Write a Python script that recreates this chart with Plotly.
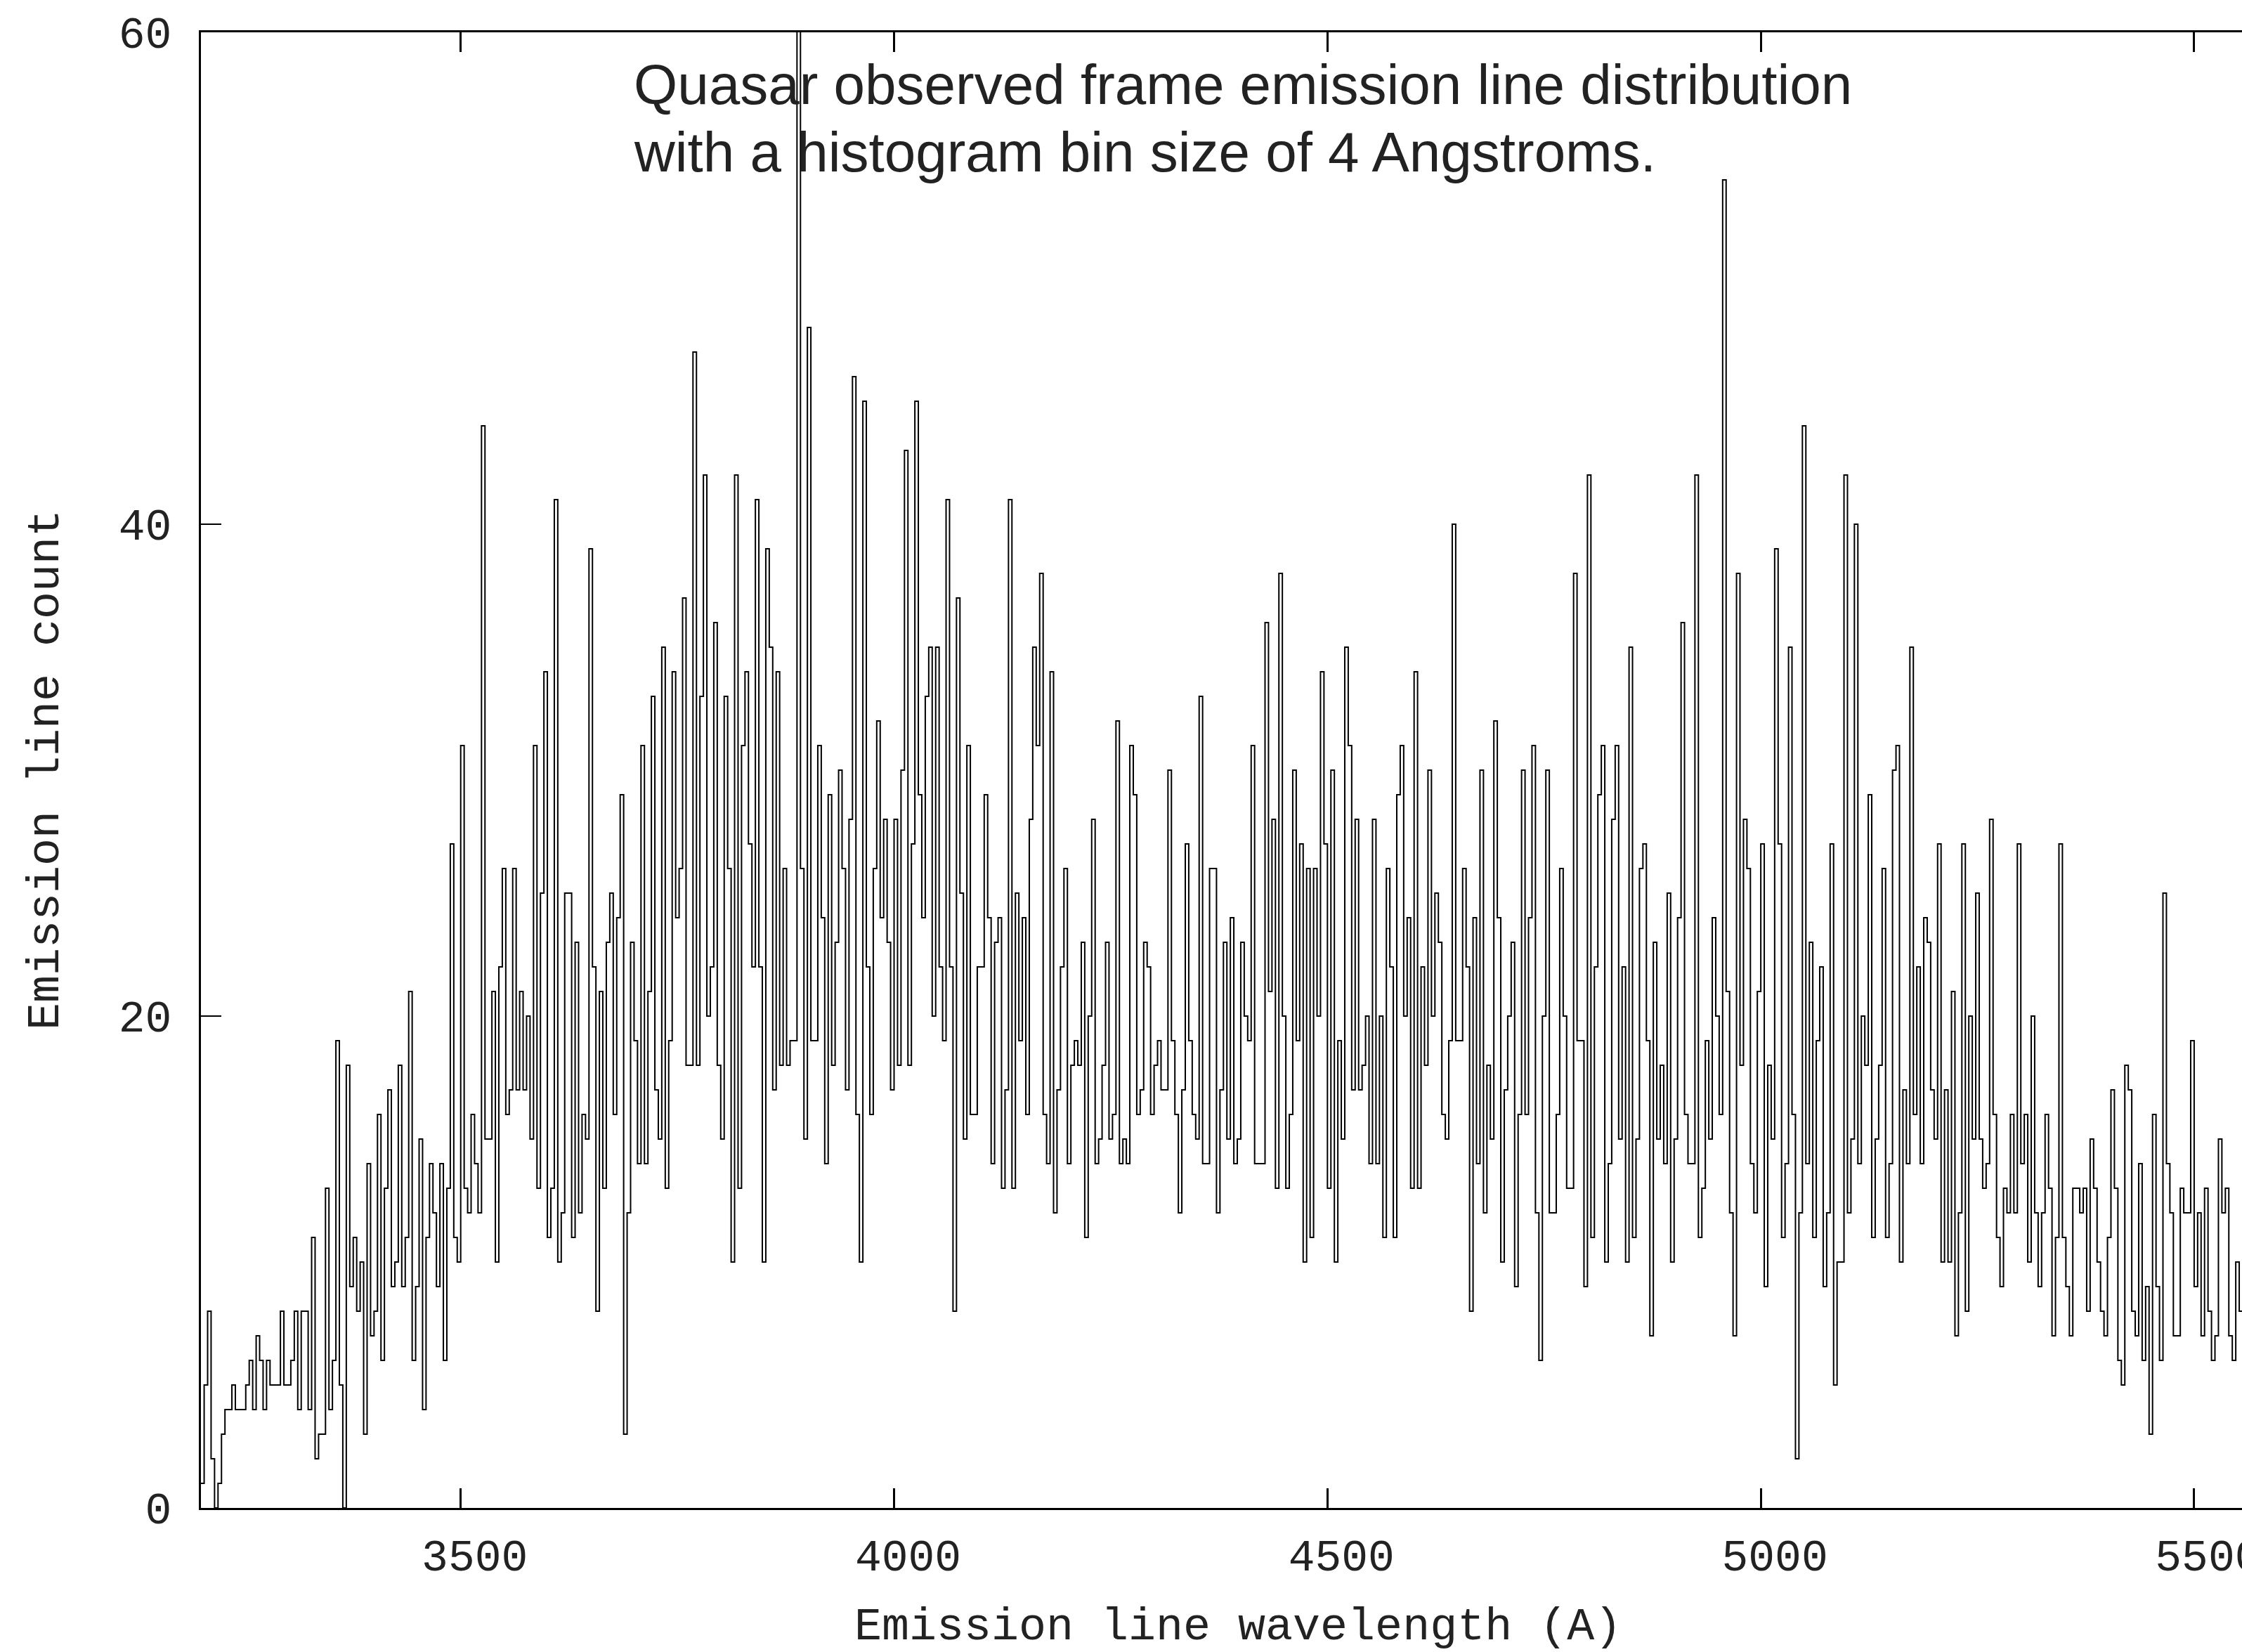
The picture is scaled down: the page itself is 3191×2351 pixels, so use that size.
import plotly.graph_objects as go

# ---------------- data ----------------
bin_start = 3200          # Angstrom, left edge of first bin
bin_width = 4             # Angstrom
counts = [
    # 3200 - 3504
    1, 5, 8, 2, 0, 1, 3, 4, 4, 5, 4, 4, 4, 5, 6, 4, 7, 6, 4, 6,
    5, 5, 5, 8, 5, 5, 6, 8, 4, 8, 8, 4, 11, 2, 3, 3, 13, 4, 6, 19,
    5, 0, 18, 9, 11, 8, 10, 3, 14, 7, 8, 16, 6, 13, 17, 9, 10, 18, 9, 11,
    21, 6, 9, 15, 4, 11, 14, 12, 9, 14, 6, 13, 27, 11, 10, 31, 13,
    # bins 78 - 156
    12, 16, 14, 12, 44, 15, 15, 21, 10, 22, 26, 16, 17, 26, 17, 21, 17, 20, 15, 31,
    13, 25, 34, 11, 13, 41, 10, 12, 25, 25, 11, 23, 12, 16, 15, 39, 22, 8, 21, 13,
    23, 25, 16, 24, 29, 3, 12, 23, 19, 14, 31, 14, 21, 33, 17, 15, 35, 13, 19, 34,
    24, 26, 37, 18, 18, 47, 18, 33, 42, 20, 22, 36, 18, 15, 33, 26, 10, 42, 13,
    # bins 157 - 235
    31, 34, 27, 22, 41, 22, 10, 39, 35, 17, 34, 18, 26, 18, 19, 19, 70, 26, 15, 48,
    19, 19, 31, 24, 14, 29, 18, 23, 30, 26, 17, 28, 46, 16, 10, 45, 22, 16, 26, 32,
    24, 28, 23, 17, 28, 18, 30, 43, 18, 27, 45, 29, 24, 33, 35, 20, 35, 22, 19, 41,
    22, 8, 37, 25, 15, 31, 16, 16, 22, 22, 29, 24, 14, 23, 24, 13, 17, 41, 13,
    # bins 236 - 314
    25, 19, 24, 16, 28, 35, 31, 38, 16, 14, 34, 12, 17, 22, 26, 14, 18, 19, 18, 23,
    11, 20, 28, 14, 15, 18, 23, 15, 16, 32, 14, 15, 14, 31, 29, 16, 17, 23, 22, 16,
    18, 19, 17, 17, 30, 19, 16, 12, 17, 27, 19, 16, 15, 33, 14, 14, 26, 26, 12, 17,
    23, 15, 24, 14, 15, 23, 20, 19, 31, 14, 14, 14, 36, 21, 28, 13, 38, 20, 13,
    # bins 315 - 393
    16, 30, 19, 27, 10, 26, 11, 26, 20, 34, 27, 13, 30, 10, 19, 15, 35, 31, 17, 28,
    17, 18, 20, 14, 28, 14, 20, 11, 26, 22, 11, 29, 31, 20, 24, 13, 34, 13, 22, 18,
    30, 20, 25, 23, 16, 15, 19, 40, 19, 19, 26, 22, 8, 24, 14, 30, 12, 18, 15, 32,
    24, 10, 17, 20, 23, 9, 16, 30, 16, 24, 31, 12, 6, 20, 30, 12, 12, 16, 26,
    # bins 394 - 471
    20, 13, 13, 38, 19, 19, 9, 42, 11, 22, 29, 31, 10, 14, 28, 31, 15, 22, 10, 35,
    11, 15, 26, 27, 19, 7, 23, 15, 18, 14, 25, 10, 15, 24, 36, 16, 14, 14, 42, 11,
    13, 19, 15, 24, 20, 16, 54, 21, 12, 7, 38, 18, 28, 26, 14, 12, 21, 27, 9, 18,
    15, 39, 27, 11, 14, 35, 16, 2, 12, 44, 14, 23, 11, 19, 22, 9, 12, 27,
    # bins 472 - 551
    5, 10, 10, 42, 12, 15, 40, 14, 20, 18, 29, 11, 15, 18, 26, 11, 14, 30, 31, 10,
    17, 14, 35, 16, 22, 14, 24, 23, 17, 15, 27, 10, 17, 10, 21, 7, 12, 27, 8, 20,
    15, 25, 15, 13, 14, 28, 16, 11, 9, 13, 12, 16, 12, 27, 14, 16, 10, 20, 12, 9,
    12, 16, 13, 7, 11, 27, 11, 9, 7, 13, 13, 12, 13, 8, 15, 13, 10, 8, 7, 11,
    # bins 552 - 589
    17, 13, 6, 5, 18, 17, 8, 7, 14, 6, 9, 3, 16, 9, 6, 25, 14, 12, 7, 7,
    13, 12, 12, 19, 9, 12, 7, 13, 8, 6, 7, 15, 12, 13, 7, 6, 10, 8,
]
x_tick_values = [3500, 4000, 4500, 5000, 5500]
y_tick_values = [0, 20, 40, 60]
x_range = [3200.3, 5555.2]
y_range = [0, 60]
title_lines = ["Quasar observed frame emission line distribution",
               "with a histogram bin size of 4 Angstroms."]
x_label = "Emission line wavelength (A)"
y_label = "Emission line count"

# ---------------- figure ----------------
edges = [bin_start + bin_width * i for i in range(len(counts) + 1)]
step_y = counts + [counts[-1]]

W, H = 3191, 2351
L, R, T, B = 286, 0, 46, 205
plot_w, plot_h = W - L - R, H - T - B

fig = go.Figure(go.Scatter(
    x=edges, y=step_y, mode="lines",
    line=dict(shape="hv", color="black", width=2),
    hoverinfo="skip", showlegend=False,
))

mono = "Liberation Mono, Courier New, monospace"
sans = "Liberation Sans, Arial, Helvetica, sans-serif"

fig.update_layout(
    width=W, height=H,
    margin=dict(l=L, r=R, t=T, b=B, pad=0, autoexpand=False),
    paper_bgcolor="white", plot_bgcolor="white",
    showlegend=False,
)
fig.update_xaxes(
    range=x_range, tickvals=x_tick_values, automargin=False,
    ticks="inside", ticklen=28, tickwidth=3, tickcolor="black",
    showline=True, linecolor="black", linewidth=3, mirror="ticks",
    showgrid=False, zeroline=False,
    tickfont=dict(family=mono, size=63, color="#222"),
    ticklabelstandoff=10, ticklabelshift=20, ticklabeloverflow="allow",
)
fig.update_yaxes(
    range=y_range, tickvals=y_tick_values, automargin=False,
    ticks="inside", ticklen=29, tickwidth=2, tickcolor="black",
    showline=True, linecolor="black", linewidth=3, mirror=False,
    showgrid=False, zeroline=False,
    tickfont=dict(family=mono, size=63, color="#222"),
    ticklabelstandoff=26,
)

def px_to_paper_x(px):
    return (px - L) / plot_w

def px_to_paper_y(py):
    return (H - B - py) / plot_h

annotations = [
    dict(text=title_lines[0], x=px_to_paper_x(900), y=px_to_paper_y(121),
         xref="paper", yref="paper", xanchor="left", yanchor="middle",
         showarrow=False, font=dict(family=sans, size=80, color="#222")),
    dict(text=title_lines[1], x=px_to_paper_x(900), y=px_to_paper_y(216),
         xref="paper", yref="paper", xanchor="left", yanchor="middle",
         showarrow=False, font=dict(family=sans, size=80, color="#222")),
    dict(text=x_label, x=px_to_paper_x(1762), y=px_to_paper_y(2316),
         xref="paper", yref="paper", xanchor="center", yanchor="middle",
         showarrow=False, font=dict(family=mono, size=65, color="#222")),
    dict(text=y_label, x=px_to_paper_x(66), y=px_to_paper_y(1096),
         xref="paper", yref="paper", xanchor="center", yanchor="middle",
         textangle=-90, showarrow=False,
         font=dict(family=mono, size=65, color="#222")),
]
fig.update_layout(annotations=annotations)

fig.write_html(
    "out.html",
    config={"displayModeBar": False},
    post_script=("document.documentElement.style.overflow='hidden';"
                 "document.body.style.margin='0';document.body.style.overflow='hidden';"),
)
